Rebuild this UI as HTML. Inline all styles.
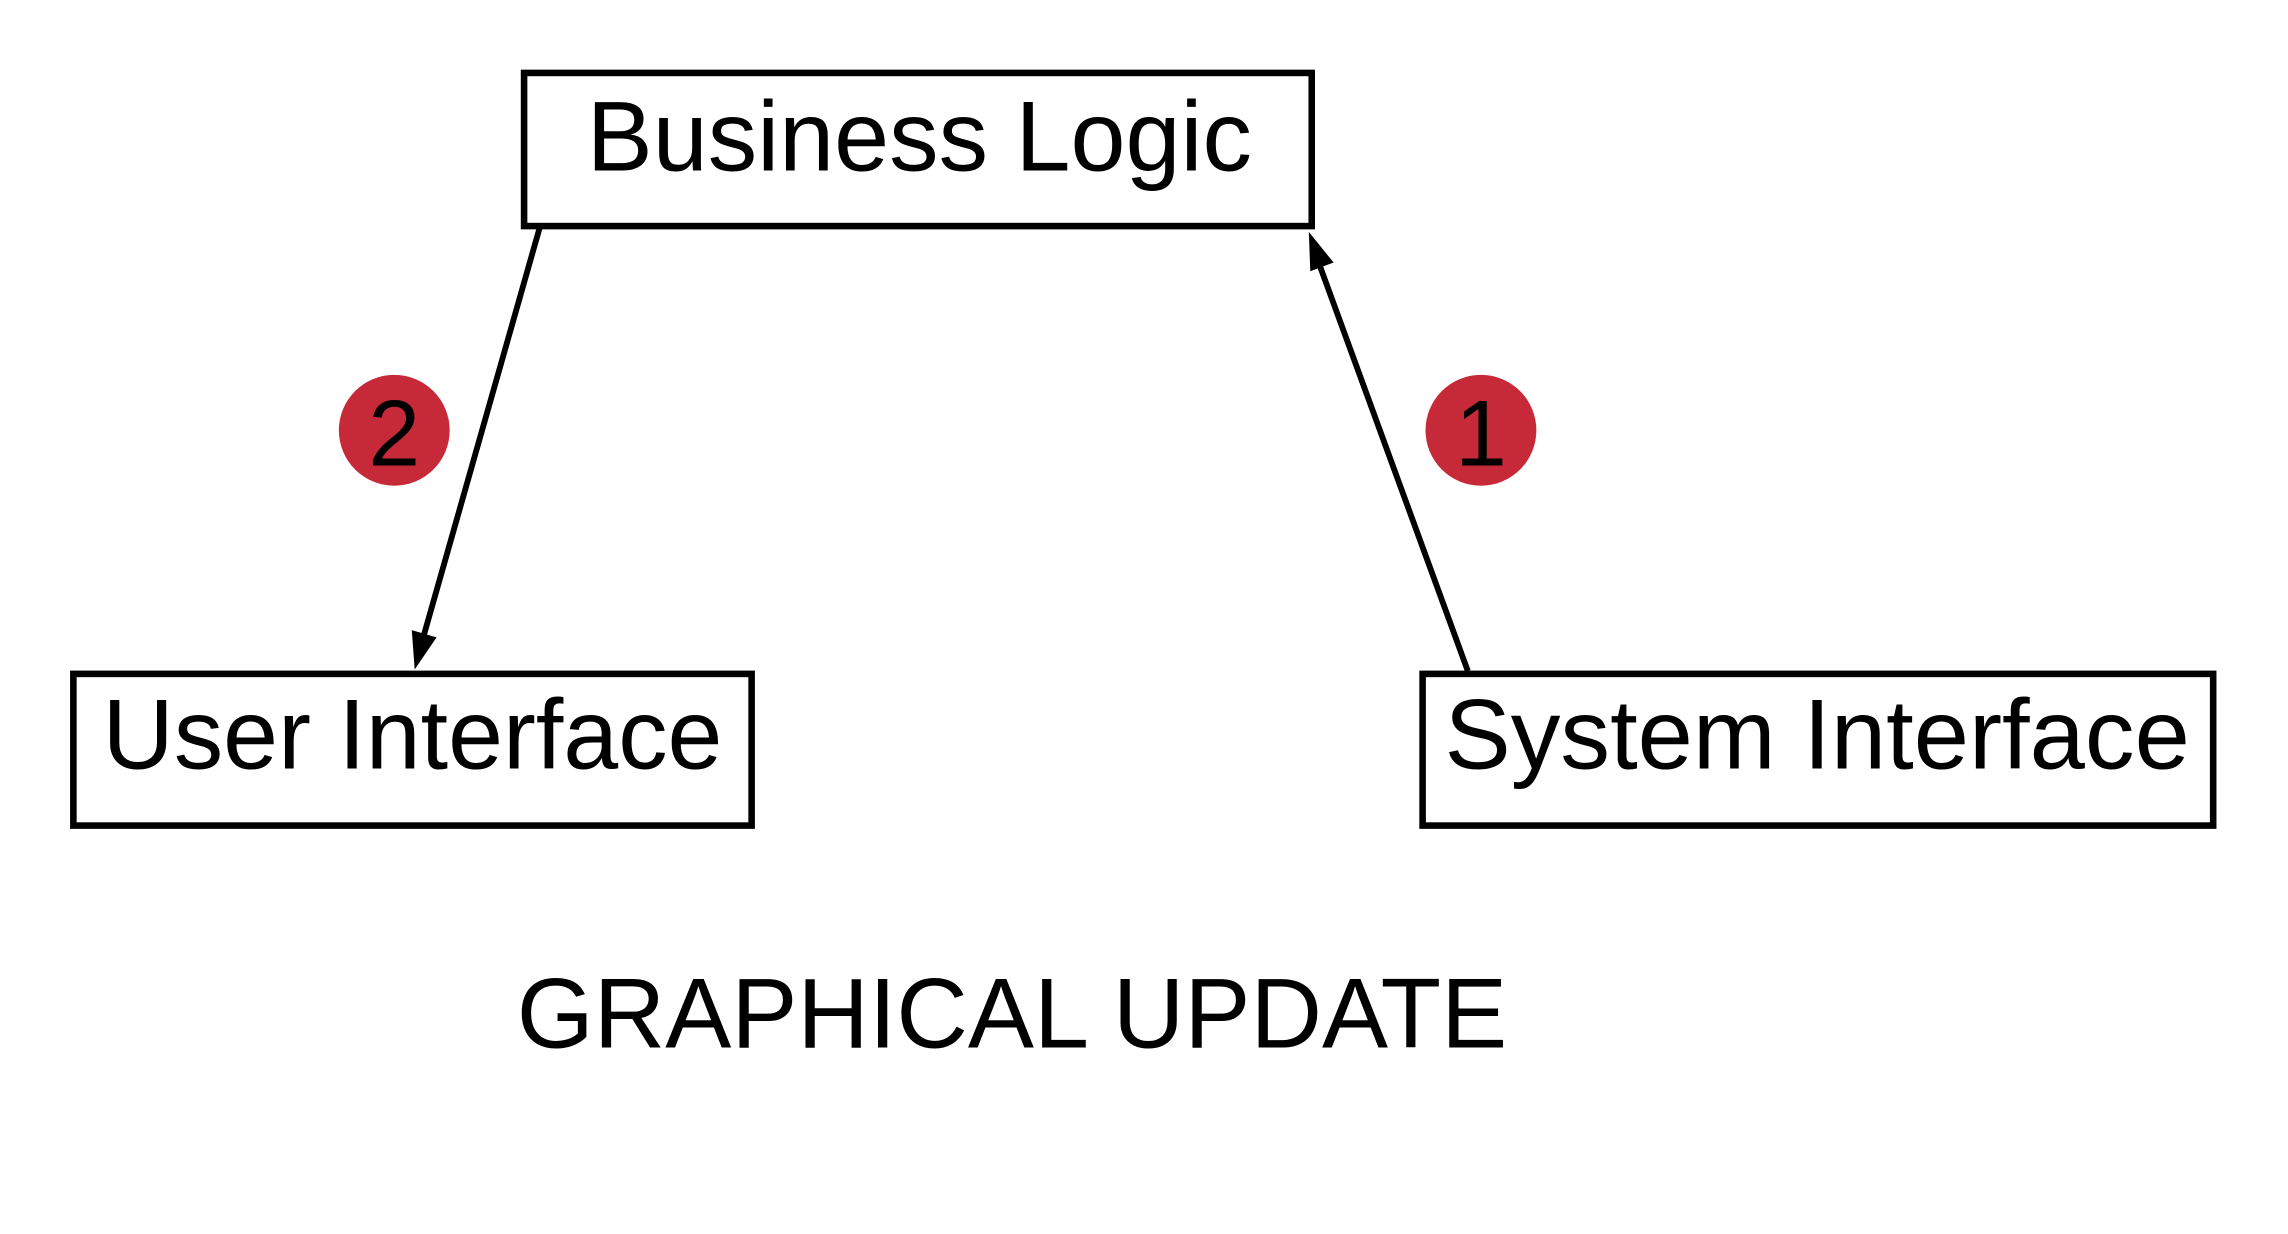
<!DOCTYPE html>
<html><head><meta charset="utf-8"><style>html,body{margin:0;padding:0;background:#fff}svg{display:block}</style></head>
<body>
<svg width="2288" height="1234" viewBox="0 0 1568 846" xmlns="http://www.w3.org/2000/svg" font-family="Liberation Sans, Arial, sans-serif">
<rect width="1568" height="846" fill="#fff"/>
<rect x="359" y="50" width="540" height="105" fill="#fff" stroke="#000" stroke-width="4.5"/>
<text x="402" y="117" font-size="68" textLength="456" lengthAdjust="spacingAndGlyphs">Business Logic</text>
<rect x="50" y="462" width="465" height="104" fill="#fff" stroke="#000" stroke-width="4.5"/>
<text x="70" y="527" font-size="68" textLength="425" lengthAdjust="spacingAndGlyphs">User Interface</text>
<rect x="975" y="462" width="542" height="104" fill="#fff" stroke="#000" stroke-width="4.5"/>
<text x="990" y="527" font-size="68" textLength="511" lengthAdjust="spacingAndGlyphs">System Interface</text>
<line x1="370" y1="155" x2="289" y2="440" stroke="#000" stroke-width="4"/>
<polygon points="284,459 282,432 299,437" fill="#000"/>
<line x1="1006" y1="460" x2="903" y2="178" stroke="#000" stroke-width="4"/>
<polygon points="897,159 914,180 898,186" fill="#000"/>
<circle cx="270" cy="295" r="38" fill="#c62a38"/>
<text x="270" y="319" font-size="64" text-anchor="middle">2</text>
<circle cx="1015" cy="295" r="38" fill="#c62a38"/>
<text x="1015" y="319" font-size="64" text-anchor="middle">1</text>
<text x="354" y="718" font-size="68" textLength="679" lengthAdjust="spacingAndGlyphs">GRAPHICAL UPDATE</text>
</svg>
</body></html>
